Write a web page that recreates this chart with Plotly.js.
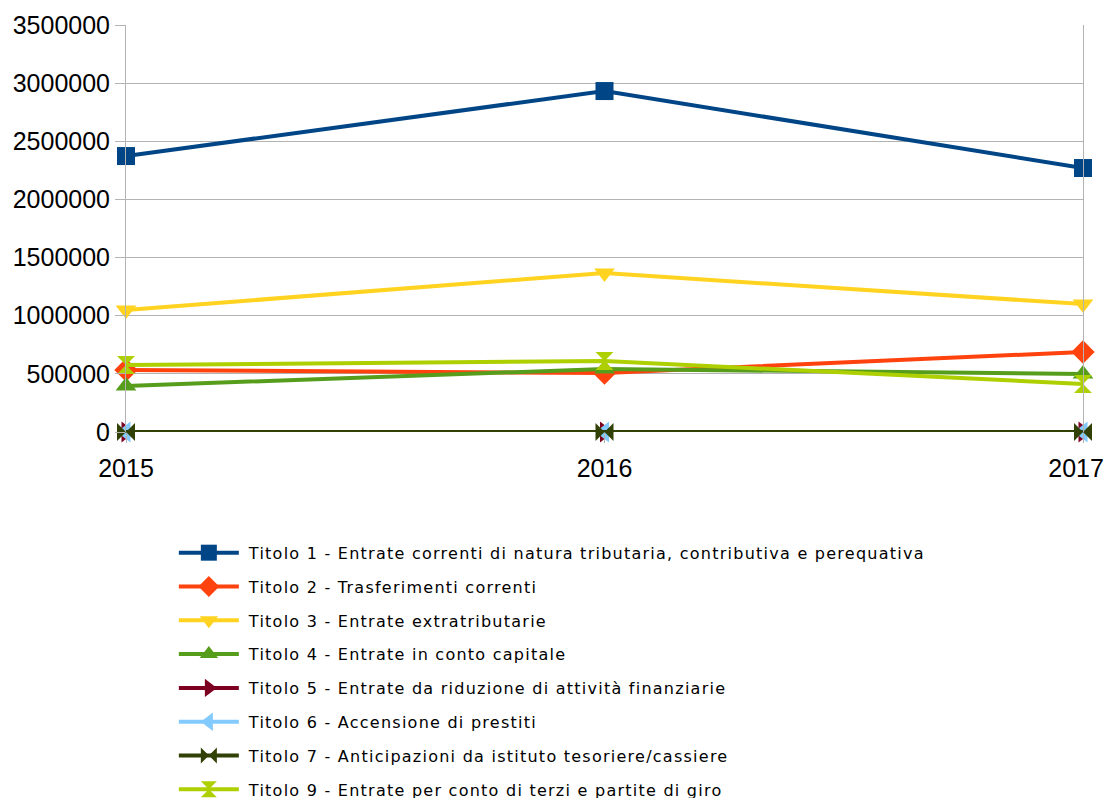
<!DOCTYPE html>
<html><head><meta charset="utf-8">
<script src="https://cdn.plot.ly/plotly-3.0.1.min.js"></script>
<style>body{margin:0;background:#fff}#chart{width:1107px;height:798px}
#chart .legendtext{letter-spacing:1.25px;transform:translateX(5px)}
#chart .legend .scrollbox{clip-path:none !important}</style>
</head><body><div id="chart"></div>
<script>
const years = ['2015','2016','2017'];
const names = [
 'Titolo 1 - Entrate correnti di natura tributaria, contributiva e perequativa',
 'Titolo 2 - Trasferimenti correnti',
 'Titolo 3 - Entrate extratributarie',
 'Titolo 4 - Entrate in conto capitale',
 'Titolo 5 - Entrate da riduzione di attività finanziarie',
 'Titolo 6 - Accensione di prestiti',
 'Titolo 7 - Anticipazioni da istituto tesoriere/cassiere',
 'Titolo 9 - Entrate per conto di terzi e partite di giro'
];
const titolo1 = [2373000, 2932000, 2270000];
const titolo2 = [533000, 507000, 688000];
const titolo3 = [1049000, 1367000, 1100000];
const titolo4 = [396000, 542000, 499000];
const titolo5 = [0, 0, 0];
const titolo6 = [0, 0, 0];
const titolo7 = [0, 0, 0];
const titolo9 = [576000, 610000, 413000];
const series = [titolo1, titolo2, titolo3, titolo4, titolo5, titolo6, titolo7, titolo9];
const colors = ['#004586','#ff420e','#ffd320','#579d1c','#7e0021','#83caff','#314004','#aecf00'];
const symbols = ['square','diamond','triangle-down','triangle-up','triangle-right','triangle-left','bowtie','hourglass'];

const traces = series.map((v,i)=>({
  x: years, y: v, name: names[i], type:'scatter', mode:'lines+markers',
  line:{color:colors[i], width:4},
  marker:{symbol:symbols[i], size:18, color:colors[i]},
  cliponaxis:false, legendgroup:'g'+i
}));

// pad the last label so it stays inside the page, as in the reference
const tickText = years.map((y,i)=> i===years.length-1 ? y+'\u00a0\u00a0' : y);

const layout = {
  width:1107, height:798,
  margin:{l:126, r:24, t:25, b:366, autoexpand:false},
  paper_bgcolor:'#fff', plot_bgcolor:'#fff',
  showlegend:true,
  font:{family:'Liberation Sans, Arial, sans-serif', color:'#000'},
  xaxis:{type:'category', range:[0,2], showgrid:false, zeroline:false,
    tickmode:'array', tickvals:years, ticktext:tickText,
    ticks:'outside', ticklen:10, tickcolor:'#b3b3b3',
    tickfont:{size:25, family:'Liberation Sans'}, ticklabelstandoff:4,
    showline:false},
  yaxis:{range:[0,3500000], dtick:500000, tickformat:'d',
    showgrid:true, gridcolor:'#b3b3b3', gridwidth:1, zeroline:false,
    ticks:'outside', ticklen:10, tickcolor:'#b3b3b3',
    showline:true, linecolor:'#b3b3b3', linewidth:1, mirror:true,
    tickfont:{size:25, family:'Liberation Sans'}},
  legend:{orientation:'v', x:0.05, xanchor:'left', y:-0.255, yanchor:'top',
    font:{size:16, family:'DejaVu Sans', color:'#000'},
    tracegroupgap:10, itemwidth:60, bgcolor:'rgba(0,0,0,0)'}
};
Plotly.newPlot('chart', traces, layout, {displayModeBar:false});
</script></body></html>
